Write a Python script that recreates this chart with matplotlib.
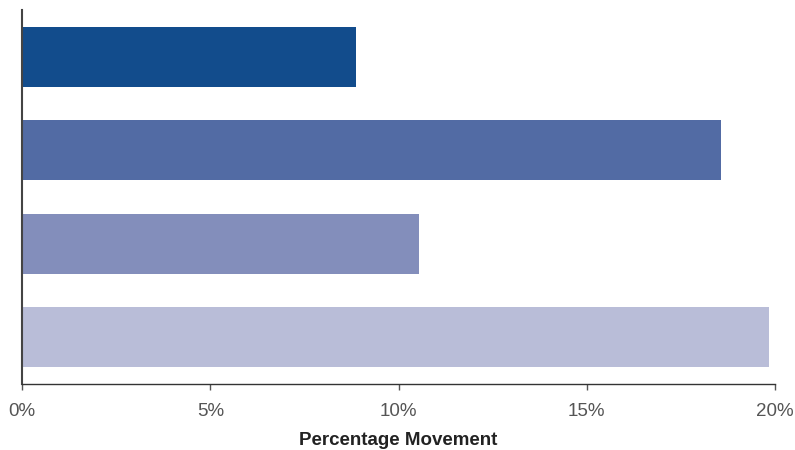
import matplotlib.pyplot as plt
from matplotlib.ticker import FuncFormatter

# Data (percent)
categories = ["A", "B", "C", "D"]
values = [8.87, 18.57, 10.54, 19.84]
colors = ["#124c8c", "#526ba4", "#838ebb", "#b9bdd8"]
ticks = [0, 5, 10, 15, 20]

plt.rcParams['font.family'] = ['Liberation Sans', 'DejaVu Sans']

fig = plt.figure(figsize=(7.95, 4.5), dpi=100)
ax = fig.add_axes([0.0277, 0.1467, 0.9472, 0.8311])

ax.barh(range(len(values)), values, height=0.64, color=colors)
ax.set_ylim(len(values) - 0.5, -0.5)
ax.set_xlim(0, 20)
ax.set_xticks(ticks)
ax.xaxis.set_major_formatter(FuncFormatter(lambda v, p: f"{v:.0f}%"))
ax.set_yticks([])

for s in ["top", "right"]:
    ax.spines[s].set_visible(False)
ax.spines["left"].set_color("#444444")
ax.spines["left"].set_linewidth(1.5)
ax.spines["bottom"].set_color("#333333")
ax.spines["bottom"].set_linewidth(1.0)
ax.tick_params(axis="x", length=4, width=1, color="#555555",
               labelsize=13.5, labelcolor="#555555", pad=10)
ax.set_xlabel("Percentage Movement", fontsize=13.5, fontweight="bold",
              color="#222222", labelpad=8)

fig.savefig("out.png", dpi=100)
